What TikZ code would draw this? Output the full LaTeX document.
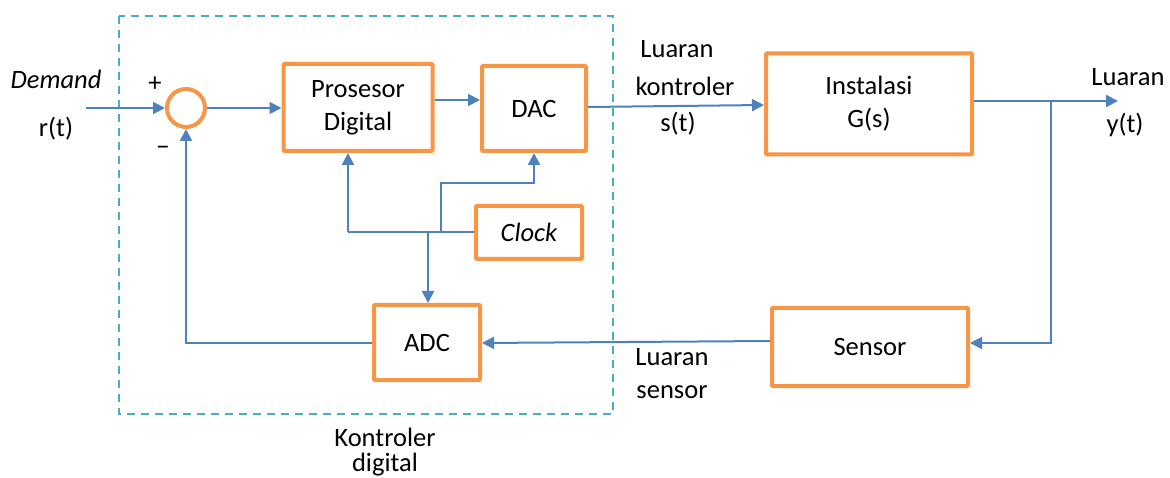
\documentclass[tikz,border=0pt]{standalone}
\usepackage{fontspec}
\setmainfont{Carlito}
\usetikzlibrary{arrows.meta,calc}
\definecolor{sigblue}{HTML}{4F81BD}
\definecolor{boxorange}{HTML}{F79646}
\definecolor{dashteal}{HTML}{4BACC6}
\begin{document}
\begin{tikzpicture}[x=1pt,y=-1pt,
  blk/.style={draw=boxorange,line width=4pt,rounded corners=1pt,fill=white,inner sep=0pt,align=center,font=\fontsize{26.5}{33}\selectfont},
  sig/.style={draw=sigblue,line width=2pt,-{Triangle[length=12pt,width=12pt]}},
  wire/.style={draw=sigblue,line width=2pt},
  lbl/.style={font=\fontsize{26.5}{30}\selectfont,inner sep=0pt}]
\useasboundingbox (0,0) rectangle (1170,478);
% dashed controller frame
\draw[dashteal,line width=2pt,dash pattern=on 8pt off 6pt] (119,16) rectangle (613,414);
% blocks
\node[blk,minimum width=149pt,minimum height=87pt] (proc) at (358,107.5) {Prosesor\\Digital};
\node[blk,minimum width=104pt,minimum height=85pt] (dac) at (534,108.5) {DAC};
\node[blk,minimum width=106pt,minimum height=53pt] (clock) at (529,232.5) {\itshape Clock};
\node[blk,minimum width=106pt,minimum height=75pt] (adc) at (427,342.5) {ADC};
\node[blk,minimum width=206pt,minimum height=101pt] (plant) at (869,104) {Instalasi\\G(s)};
\node[blk,minimum width=196pt,minimum height=78pt] (sensor) at (870,347) {Sensor};
\node[draw=boxorange,line width=4pt,circle,minimum size=38pt,inner sep=0pt] (sum) at (186,108) {};
% coordinates
\coordinate (rin) at (86,108);
\coordinate (yout) at (1118,101);
\coordinate (tap) at (1051,101);
\coordinate (cl1) at (348,232);
\coordinate (cl2) at (441,232);
\coordinate (cl3) at (428,232);
\coordinate (cl4) at (441,183);
\coordinate (cl5) at (534,183);
\coordinate (fb) at (186,343);
% signal paths
\draw[sig] (rin) -- (sum.west);
\draw[sig] (sum.east) -- (proc.west |- sum.east);
\draw[sig] (proc.east |- 0,100) -- (dac.west |- 0,100);
\draw[sig] (dac.east |- 0,107) -- (plant.west |- 0,105);
\draw[sig] (plant.east |- yout) -- (yout);
\draw[sig] (tap) |- (sensor.east |- 0,343);
\draw[sig] (sensor.west |- 0,341) -- (adc.east |- 0,343);
\draw[sig] (adc.west |- fb) -- (fb) -- (sum.south);
% clock distribution
\draw[wire] (clock.west |- cl1) -- (cl1);
\draw[sig] (cl1) -- (cl1 |- proc.south);
\draw[sig] (cl2) -- (cl4) -- (cl5) -- (dac.south);
\draw[sig] (cl3) -- (cl3 |- adc.north);
% labels
\node[lbl,font=\fontsize{26.5}{30}\selectfont\itshape] (demand) at (56,79) {Demand};
\node[lbl] (rt) at (56,129) {r(t)};
\node[lbl] (plus) at (155,84) {+};
\node[lbl] (minus) at (163,151) {−};
\node[lbl] (lk1) at (677,49) {Luaran};
\node[lbl] (lk2) at (685,86) {kontroler};
\node[lbl] (lk3) at (678,124) {s(t)};
\node[lbl] (ly1) at (1128,77) {Luaran};
\node[lbl] (ly2) at (1125,125) {y(t)};
\node[lbl] (ls1) at (672,357) {Luaran};
\node[lbl] (ls2) at (672,392) {sensor};
\node[lbl] (kd1) at (385,437) {Kontroler};
\node[lbl] (kd2) at (385,465) {digital};
\end{tikzpicture}
\end{document}
